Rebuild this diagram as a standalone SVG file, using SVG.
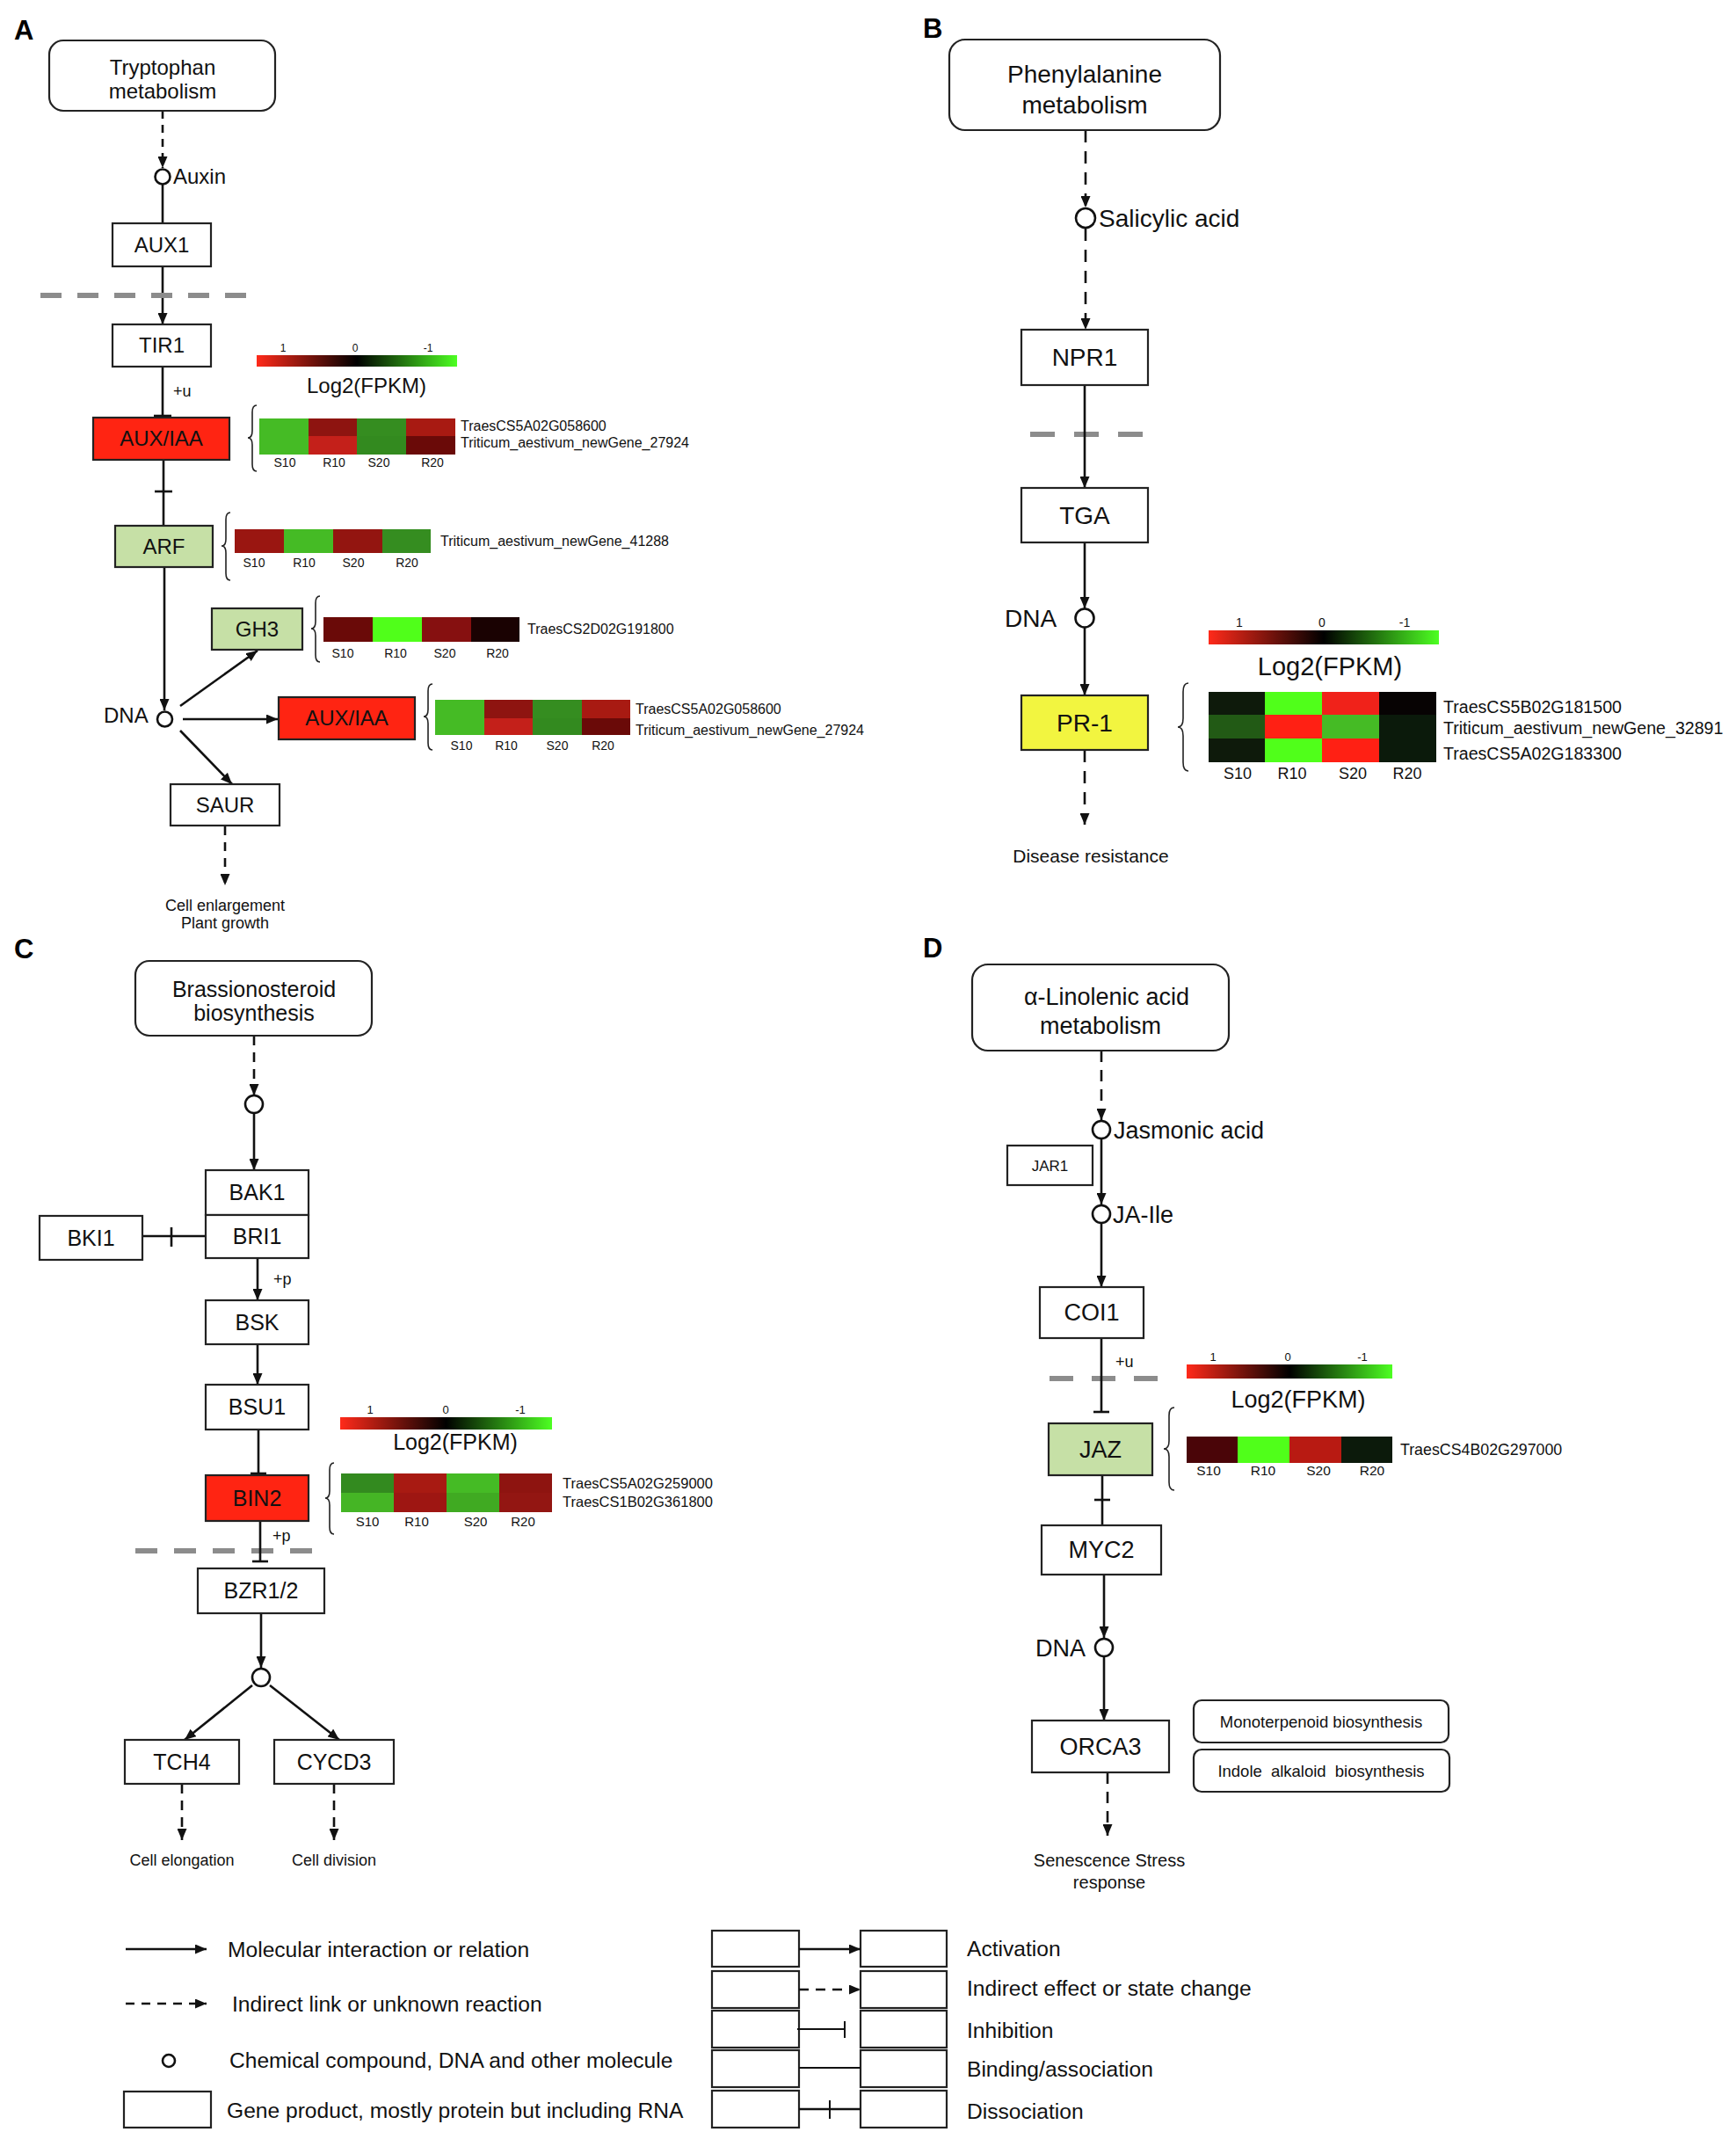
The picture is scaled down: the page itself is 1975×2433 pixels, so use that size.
<svg xmlns="http://www.w3.org/2000/svg" width="1975" height="2433" viewBox="0 0 1975 2433">
<defs>
<marker id="ar" markerUnits="userSpaceOnUse" markerWidth="13" markerHeight="11" refX="13" refY="5.5" orient="auto"><path d="M0,0 L13,5.5 L0,11 z" fill="#111"/></marker>
<linearGradient id="cb" x1="0" y1="0" x2="1" y2="0"><stop offset="0" stop-color="#ff2a1a"/><stop offset="0.5" stop-color="#000"/><stop offset="1" stop-color="#4dff22"/></linearGradient>
</defs>
<style>
.box{fill:#fff;stroke:#222;stroke-width:2.2}
.red{fill:#ff2412}
.grn{fill:#c6e0a6}
.yel{fill:#f2f540}
.t{font-family:"Liberation Sans",Arial,sans-serif;fill:#111}
.c{text-anchor:middle}
.ln{stroke:#111;stroke-width:2.6;fill:none}
.dl{stroke:#111;stroke-width:2.6;fill:none;stroke-dasharray:11 8}
.gd{stroke:#8c8c8c;stroke-width:6;fill:none}
.br{stroke:#222;stroke-width:1.6;fill:none}
.cir{fill:#fff;stroke:#111;stroke-width:2.6}
.lbl{font-family:"Liberation Sans",Arial,sans-serif;font-weight:bold;font-size:31px;fill:#000}
</style>
<rect width="1975" height="2433" fill="#fff"/>

<!-- Panel letters -->
<text class="lbl" x="16" y="45">A</text>
<text class="lbl" x="1050" y="43">B</text>
<text class="lbl" x="16" y="1090">C</text>
<text class="lbl" x="1050" y="1089">D</text>

<!-- ================= Connectors ================= -->
<g id="connectors">
<!-- A -->
<line class="dl" x1="185" y1="126" x2="185" y2="191" marker-end="url(#ar)" style="stroke-dasharray:9 7"/>
<line class="ln" x1="185" y1="210" x2="185" y2="254"/>
<line class="ln" x1="185" y1="303" x2="185" y2="369" marker-end="url(#ar)"/>
<line class="gd" x1="46" y1="336" x2="282" y2="336" style="stroke-dasharray:24 18"/>
<line class="ln" x1="185" y1="417" x2="185" y2="473"/>
<line class="ln" x1="175" y1="473" x2="195" y2="473"/>
<line class="ln" x1="186" y1="523" x2="186" y2="598"/>
<line class="ln" x1="176" y1="559" x2="196" y2="559"/>
<line class="ln" x1="187" y1="645" x2="187" y2="808" marker-end="url(#ar)"/>
<line class="ln" x1="205" y1="803" x2="293" y2="740" marker-end="url(#ar)"/>
<line class="ln" x1="208" y1="818" x2="316" y2="818" marker-end="url(#ar)"/>
<line class="ln" x1="205" y1="831" x2="264" y2="892" marker-end="url(#ar)"/>
<line class="dl" x1="256" y1="940" x2="256" y2="1007" marker-end="url(#ar)" style="stroke-dasharray:10 8"/>
<!-- B -->
<line class="dl" x1="1235" y1="148" x2="1235" y2="236" marker-end="url(#ar)" style="stroke-dasharray:14 10"/>
<line class="dl" x1="1235" y1="260" x2="1235" y2="375" marker-end="url(#ar)" style="stroke-dasharray:14 10"/>
<line class="gd" x1="1172" y1="494" x2="1302" y2="494" style="stroke-dasharray:28 22"/>
<line class="ln" x1="1234" y1="438" x2="1234" y2="555" marker-end="url(#ar)"/>
<line class="ln" x1="1234" y1="617" x2="1234" y2="692" marker-end="url(#ar)"/>
<line class="ln" x1="1234" y1="714" x2="1234" y2="791" marker-end="url(#ar)"/>
<line class="dl" x1="1234" y1="853" x2="1234" y2="938" marker-end="url(#ar)" style="stroke-dasharray:14 10"/>
<!-- C -->
<line class="dl" x1="289" y1="1178" x2="289" y2="1246" marker-end="url(#ar)"/>
<line class="ln" x1="289" y1="1266" x2="289" y2="1331" marker-end="url(#ar)"/>
<line class="ln" x1="162" y1="1406" x2="234" y2="1406"/>
<line class="ln" x1="195" y1="1396" x2="195" y2="1418"/>
<line class="ln" x1="293" y1="1431" x2="293" y2="1479" marker-end="url(#ar)"/>
<line class="ln" x1="293" y1="1529" x2="293" y2="1575" marker-end="url(#ar)"/>
<line class="ln" x1="294" y1="1626" x2="294" y2="1676"/>
<line class="ln" x1="285" y1="1676" x2="303" y2="1676"/>
<line class="gd" x1="154" y1="1764" x2="357" y2="1764" style="stroke-dasharray:25 19"/>
<line class="ln" x1="296" y1="1730" x2="296" y2="1776"/>
<line class="ln" x1="287" y1="1776" x2="305" y2="1776"/>
<line class="ln" x1="297" y1="1835" x2="297" y2="1897" marker-end="url(#ar)"/>
<line class="ln" x1="287" y1="1917" x2="210" y2="1979" marker-end="url(#ar)"/>
<line class="ln" x1="307" y1="1917" x2="386" y2="1979" marker-end="url(#ar)"/>
<line class="dl" x1="207" y1="2029" x2="207" y2="2093" marker-end="url(#ar)"/>
<line class="dl" x1="380" y1="2029" x2="380" y2="2093" marker-end="url(#ar)"/>
<!-- D -->
<line class="dl" x1="1253" y1="1195" x2="1253" y2="1274" marker-end="url(#ar)" style="stroke-dasharray:13 9"/>
<line class="ln" x1="1253" y1="1295" x2="1253" y2="1370" marker-end="url(#ar)"/>
<line class="ln" x1="1253" y1="1391" x2="1253" y2="1464" marker-end="url(#ar)"/>
<line class="gd" x1="1194" y1="1568" x2="1317" y2="1568" style="stroke-dasharray:27 21"/>
<line class="ln" x1="1253" y1="1522" x2="1253" y2="1606"/>
<line class="ln" x1="1244" y1="1606" x2="1262" y2="1606"/>
<line class="ln" x1="1254" y1="1678" x2="1254" y2="1735"/>
<line class="ln" x1="1245" y1="1706" x2="1263" y2="1706"/>
<line class="ln" x1="1256" y1="1791" x2="1256" y2="1863" marker-end="url(#ar)"/>
<line class="ln" x1="1256" y1="1884" x2="1256" y2="1957" marker-end="url(#ar)"/>
<line class="dl" x1="1260" y1="2016" x2="1260" y2="2088" marker-end="url(#ar)" style="stroke-dasharray:13 9"/>
</g>

<!-- ================= Panel A nodes ================= -->
<g id="A-tryptophan"><rect class="box" x="56" y="46" width="257" height="80" rx="16"/>
<text class="t c" x="185" y="85" font-size="24">Tryptophan</text><text class="t c" x="185" y="112" font-size="24">metabolism</text></g>
<g id="A-auxin"><circle class="cir" cx="185" cy="201" r="8.5"/><text class="t" x="197" y="209" font-size="24">Auxin</text></g>
<g id="A-AUX1"><rect class="box" x="128" y="254" width="112" height="49"/><text class="t c" x="184" y="287" font-size="24">AUX1</text></g>
<g id="A-TIR1"><rect class="box" x="128" y="369" width="112" height="48"/><text class="t c" x="184" y="401" font-size="24">TIR1</text></g>
<text class="t" x="197" y="451" font-size="18">+u</text>
<g id="A-AUXIAA1"><rect class="box red" x="106" y="475" width="155" height="48"/><text class="t c" x="183.5" y="507" font-size="24">AUX/IAA</text></g>
<g id="A-ARF"><rect class="box grn" x="131" y="598" width="111" height="47"/><text class="t c" x="186.5" y="630" font-size="24">ARF</text></g>
<g id="A-GH3"><rect class="box grn" x="241" y="692" width="103" height="47"/><text class="t c" x="292.5" y="724" font-size="24">GH3</text></g>
<g id="A-DNA"><circle class="cir" cx="187.5" cy="818" r="8.5"/><text class="t" x="118" y="822" font-size="24">DNA</text></g>
<g id="A-AUXIAA2"><rect class="box red" x="317" y="793" width="155" height="48"/><text class="t c" x="394.5" y="825" font-size="24">AUX/IAA</text></g>
<g id="A-SAUR"><rect class="box" x="194" y="892" width="124" height="47"/><text class="t c" x="256" y="924" font-size="24">SAUR</text></g>
<g id="A-out"><text class="t c" x="256" y="1036" font-size="18">Cell enlargement</text><text class="t c" x="256" y="1056" font-size="18">Plant growth</text></g>

<g id="A-colorbar"><rect x="292" y="404" width="228" height="13" fill="url(#cb)"/>
<text class="t c" x="322" y="400" font-size="12">1</text><text class="t c" x="404" y="400" font-size="12">0</text><text class="t c" x="487" y="400" font-size="12">-1</text>
<text class="t c" x="417" y="447" font-size="24">Log2(FPKM)</text></g>

<g id="A-heat1">
<path class="br" d="M292,461 Q287,461 287,469 L287,490 Q287,498 282,498 Q287,498 287,506 L287,528 Q287,536 292,536"/>
<rect x="295" y="476" width="56" height="20" fill="#45bb25"/><rect x="351" y="476" width="55" height="20" fill="#8e1410"/><rect x="406" y="476" width="56" height="20" fill="#358d20"/><rect x="462" y="476" width="56" height="20" fill="#a81a12"/>
<rect x="295" y="496" width="56" height="21" fill="#45bb25"/><rect x="351" y="496" width="55" height="21" fill="#c4201a"/><rect x="406" y="496" width="56" height="21" fill="#338a1f"/><rect x="462" y="496" width="56" height="21" fill="#6a0a08"/>
<text class="t c" x="324" y="531" font-size="14">S10</text><text class="t c" x="380" y="531" font-size="14">R10</text><text class="t c" x="431" y="531" font-size="14">S20</text><text class="t c" x="492" y="531" font-size="14">R20</text>
<text class="t" x="524" y="490" font-size="16">TraesCS5A02G058600</text><text class="t" x="524" y="509" font-size="16">Triticum_aestivum_newGene_27924</text></g>

<g id="A-heatARF">
<path class="br" d="M262,583 Q257,583 257,591 L257,613 Q257,621 252,621 Q257,621 257,629 L257,652 Q257,660 262,660"/>
<rect x="267" y="602" width="56" height="27" fill="#9a1611"/><rect x="323" y="602" width="56" height="27" fill="#45bb25"/><rect x="379" y="602" width="56" height="27" fill="#931510"/><rect x="435" y="602" width="55" height="27" fill="#358d20"/>
<text class="t c" x="289" y="645" font-size="14">S10</text><text class="t c" x="346" y="645" font-size="14">R10</text><text class="t c" x="402" y="645" font-size="14">S20</text><text class="t c" x="463" y="645" font-size="14">R20</text>
<text class="t" x="501" y="621" font-size="16">Triticum_aestivum_newGene_41288</text></g>

<g id="A-heatGH3">
<path class="br" d="M364,678 Q359,678 359,686 L359,707 Q359,715 354,715 Q359,715 359,723 L359,745 Q359,753 364,753"/>
<rect x="368" y="702" width="56" height="28" fill="#6a0a08"/><rect x="424" y="702" width="56" height="28" fill="#50ff1a"/><rect x="480" y="702" width="56" height="28" fill="#861010"/><rect x="536" y="702" width="55" height="28" fill="#1a0202"/>
<text class="t c" x="390" y="748" font-size="14">S10</text><text class="t c" x="450" y="748" font-size="14">R10</text><text class="t c" x="506" y="748" font-size="14">S20</text><text class="t c" x="566" y="748" font-size="14">R20</text>
<text class="t" x="600" y="721" font-size="16">TraesCS2D02G191800</text></g>

<g id="A-heat2">
<path class="br" d="M492,778 Q487,778 487,786 L487,807 Q487,815 482,815 Q487,815 487,823 L487,845 Q487,853 492,853"/>
<rect x="495" y="796" width="56" height="21" fill="#45bb25"/><rect x="551" y="796" width="55" height="21" fill="#8e1410"/><rect x="606" y="796" width="56" height="21" fill="#358d20"/><rect x="662" y="796" width="55" height="21" fill="#a81a12"/>
<rect x="495" y="817" width="56" height="19" fill="#45bb25"/><rect x="551" y="817" width="55" height="19" fill="#c4201a"/><rect x="606" y="817" width="56" height="19" fill="#338a1f"/><rect x="662" y="817" width="55" height="19" fill="#6a0a08"/>
<text class="t c" x="525" y="853" font-size="14">S10</text><text class="t c" x="576" y="853" font-size="14">R10</text><text class="t c" x="634" y="853" font-size="14">S20</text><text class="t c" x="686" y="853" font-size="14">R20</text>
<text class="t" x="723" y="812" font-size="16">TraesCS5A02G058600</text><text class="t" x="723" y="836" font-size="16">Triticum_aestivum_newGene_27924</text></g>

<!-- ================= Panel B nodes ================= -->
<g id="B-phenylalanine"><rect class="box" x="1080" y="45" width="308" height="103" rx="18"/>
<text class="t c" x="1234" y="94" font-size="28">Phenylalanine</text><text class="t c" x="1234" y="129" font-size="28">metabolism</text></g>
<g id="B-salicylic"><circle class="cir" cx="1235" cy="248" r="11"/><text class="t" x="1250" y="258" font-size="28">Salicylic acid</text></g>
<g id="B-NPR1"><rect class="box" x="1162" y="375" width="144" height="63"/><text class="t c" x="1234" y="416" font-size="28">NPR1</text></g>
<g id="B-TGA"><rect class="box" x="1162" y="555" width="144" height="62"/><text class="t c" x="1234" y="596" font-size="28">TGA</text></g>
<g id="B-DNA"><circle class="cir" cx="1234" cy="703" r="10.5"/><text class="t" x="1143" y="713" font-size="28">DNA</text></g>
<g id="B-PR1"><rect class="box yel" x="1162" y="791" width="144" height="62"/><text class="t c" x="1234" y="832" font-size="28">PR-1</text></g>
<text class="t c" x="1241" y="981" font-size="21">Disease resistance</text>
<g id="B-colorbar"><rect x="1375" y="717" width="262" height="16" fill="url(#cb)"/>
<text class="t c" x="1410" y="713" font-size="14">1</text><text class="t c" x="1504" y="713" font-size="14">0</text><text class="t c" x="1598" y="713" font-size="14">-1</text>
<text class="t c" x="1513" y="768" font-size="29">Log2(FPKM)</text></g>
<g id="B-heat">
<path class="br" d="M1352,777 Q1346,777 1346,787 L1346,817 Q1346,827 1340,827 Q1346,827 1346,837 L1346,867 Q1346,877 1352,877"/>
<rect x="1375" y="787" width="64" height="26" fill="#0e1a0b"/><rect x="1439" y="787" width="65" height="26" fill="#50ff1a"/><rect x="1504" y="787" width="65" height="26" fill="#f0221a"/><rect x="1569" y="787" width="65" height="26" fill="#070303"/>
<rect x="1375" y="813" width="64" height="27" fill="#225a15"/><rect x="1439" y="813" width="65" height="27" fill="#ff2014"/><rect x="1504" y="813" width="65" height="27" fill="#45bb25"/><rect x="1569" y="813" width="65" height="27" fill="#0b1a0b"/>
<rect x="1375" y="840" width="64" height="27" fill="#0e1a0b"/><rect x="1439" y="840" width="65" height="27" fill="#50ff1a"/><rect x="1504" y="840" width="65" height="27" fill="#ff2014"/><rect x="1569" y="840" width="65" height="27" fill="#0b1a0b"/>
<text class="t c" x="1408" y="886" font-size="18">S10</text><text class="t c" x="1470" y="886" font-size="18">R10</text><text class="t c" x="1539" y="886" font-size="18">S20</text><text class="t c" x="1601" y="886" font-size="18">R20</text>
<text class="t" x="1642" y="811" font-size="19.6">TraesCS5B02G181500</text><text class="t" x="1642" y="835" font-size="19.6">Triticum_aestivum_newGene_32891</text><text class="t" x="1642" y="864" font-size="19.6">TraesCS5A02G183300</text></g>

<!-- ================= Panel C nodes ================= -->
<g id="C-brass"><rect class="box" x="154" y="1093" width="269" height="85" rx="16"/>
<text class="t c" x="289" y="1134" font-size="25">Brassionosteroid</text><text class="t c" x="289" y="1161" font-size="25">biosynthesis</text></g>
<g id="C-cpd"><circle class="cir" cx="289" cy="1256" r="10"/></g>
<g id="C-BAK1"><rect class="box" x="234" y="1331" width="117" height="51"/><text class="t c" x="292.5" y="1365" font-size="25">BAK1</text></g>
<g id="C-BRI1"><rect class="box" x="234" y="1382" width="117" height="49"/><text class="t c" x="292.5" y="1415" font-size="25">BRI1</text></g>
<g id="C-BKI1"><rect class="box" x="45" y="1383" width="117" height="50"/><text class="t c" x="103.5" y="1417" font-size="25">BKI1</text></g>
<text class="t" x="311" y="1461" font-size="18">+p</text>
<g id="C-BSK"><rect class="box" x="234" y="1479" width="117" height="50"/><text class="t c" x="292.5" y="1513" font-size="25">BSK</text></g>
<g id="C-BSU1"><rect class="box" x="234" y="1575" width="117" height="51"/><text class="t c" x="292.5" y="1609" font-size="25">BSU1</text></g>
<g id="C-BIN2"><rect class="box red" x="234" y="1678" width="117" height="52"/><text class="t c" x="292.5" y="1713" font-size="25">BIN2</text></g>
<text class="t" x="310" y="1753" font-size="18">+p</text>
<g id="C-BZR"><rect class="box" x="225" y="1784" width="144" height="51"/><text class="t c" x="297" y="1818" font-size="25">BZR1/2</text></g>
<g id="C-cpd2"><circle class="cir" cx="297" cy="1908" r="10"/></g>
<g id="C-TCH4"><rect class="box" x="142" y="1979" width="130" height="50"/><text class="t c" x="207" y="2013" font-size="25">TCH4</text></g>
<g id="C-CYCD3"><rect class="box" x="312" y="1979" width="136" height="50"/><text class="t c" x="380" y="2013" font-size="25">CYCD3</text></g>
<text class="t c" x="207" y="2122" font-size="18">Cell elongation</text>
<text class="t c" x="380" y="2122" font-size="18">Cell division</text>
<g id="C-colorbar"><rect x="387" y="1612" width="241" height="14" fill="url(#cb)"/>
<text class="t c" x="421" y="1608" font-size="13">1</text><text class="t c" x="507" y="1608" font-size="13">0</text><text class="t c" x="592" y="1608" font-size="13">-1</text>
<text class="t c" x="518" y="1649" font-size="25">Log2(FPKM)</text></g>
<g id="C-heat">
<path class="br" d="M380,1664 Q375,1664 375,1672 L375,1696 Q375,1704 370,1704 Q375,1704 375,1712 L375,1737 Q375,1745 380,1745"/>
<rect x="388" y="1676" width="60" height="22" fill="#338a1f"/><rect x="448" y="1676" width="60" height="22" fill="#a81a12"/><rect x="508" y="1676" width="60" height="22" fill="#45bb25"/><rect x="568" y="1676" width="60" height="22" fill="#8e1410"/>
<rect x="388" y="1698" width="60" height="22" fill="#45b525"/><rect x="448" y="1698" width="60" height="22" fill="#9e1612"/><rect x="508" y="1698" width="60" height="22" fill="#40aa22"/><rect x="568" y="1698" width="60" height="22" fill="#931612"/>
<text class="t c" x="418" y="1736" font-size="15">S10</text><text class="t c" x="474" y="1736" font-size="15">R10</text><text class="t c" x="541" y="1736" font-size="15">S20</text><text class="t c" x="595" y="1736" font-size="15">R20</text>
<text class="t" x="640" y="1693" font-size="16.5">TraesCS5A02G259000</text><text class="t" x="640" y="1714" font-size="16.5">TraesCS1B02G361800</text></g>

<!-- ================= Panel D nodes ================= -->
<g id="D-linolenic"><rect class="box" x="1106" y="1097" width="292" height="98" rx="18"/>
<text class="t c" x="1259" y="1143" font-size="27">α-Linolenic acid</text><text class="t c" x="1252" y="1176" font-size="27">metabolism</text></g>
<g id="D-JA"><circle class="cir" cx="1253" cy="1285" r="10"/><text class="t" x="1267" y="1295" font-size="27">Jasmonic acid</text></g>
<g id="D-JAR1"><rect class="box" x="1146" y="1303" width="97" height="45"/><text class="t c" x="1194.5" y="1332" font-size="17">JAR1</text></g>
<g id="D-JAIle"><circle class="cir" cx="1253" cy="1381" r="10"/><text class="t" x="1266" y="1391" font-size="27">JA-Ile</text></g>
<g id="D-COI1"><rect class="box" x="1183" y="1464" width="118" height="58"/><text class="t c" x="1242" y="1502" font-size="27">COI1</text></g>
<text class="t" x="1269" y="1555" font-size="18">+u</text>
<g id="D-JAZ"><rect class="box grn" x="1193" y="1619" width="118" height="59"/><text class="t c" x="1252" y="1658" font-size="27">JAZ</text></g>
<g id="D-MYC2"><rect class="box" x="1185" y="1735" width="136" height="56"/><text class="t c" x="1253" y="1772" font-size="27">MYC2</text></g>
<g id="D-DNA"><circle class="cir" cx="1256" cy="1874" r="10"/><text class="t" x="1178" y="1884" font-size="27">DNA</text></g>
<g id="D-ORCA3"><rect class="box" x="1174" y="1957" width="156" height="59"/><text class="t c" x="1252" y="1996" font-size="27">ORCA3</text></g>
<g id="D-out"><text class="t c" x="1262" y="2123" font-size="20">Senescence Stress</text><text class="t c" x="1262" y="2148" font-size="20">response</text></g>
<g id="D-mono"><rect class="box" x="1358" y="1934" width="290" height="48" rx="9"/><text class="t c" x="1503" y="1965" font-size="18.5">Monoterpenoid biosynthesis</text></g>
<g id="D-indole"><rect class="box" x="1358" y="1990" width="291" height="48" rx="9"/><text class="t c" x="1503" y="2021" font-size="18.5" word-spacing="5">Indole alkaloid biosynthesis</text></g>
<g id="D-colorbar"><rect x="1350" y="1552" width="234" height="16" fill="url(#cb)"/>
<text class="t c" x="1380" y="1548" font-size="13">1</text><text class="t c" x="1465" y="1548" font-size="13">0</text><text class="t c" x="1550" y="1548" font-size="13">-1</text>
<text class="t c" x="1477" y="1601" font-size="27">Log2(FPKM)</text></g>
<g id="D-heat">
<path class="br" d="M1336,1601 Q1330,1601 1330,1610 L1330,1639 Q1330,1648 1324,1648 Q1330,1648 1330,1657 L1330,1686 Q1330,1695 1336,1695"/>
<rect x="1350" y="1634" width="58" height="30" fill="#4a0508"/><rect x="1408" y="1634" width="59" height="30" fill="#50ff1a"/><rect x="1467" y="1634" width="59" height="30" fill="#b81a12"/><rect x="1526" y="1634" width="58" height="30" fill="#0c1a0b"/>
<text class="t c" x="1375" y="1678" font-size="15.5">S10</text><text class="t c" x="1437" y="1678" font-size="15.5">R10</text><text class="t c" x="1500" y="1678" font-size="15.5">S20</text><text class="t c" x="1561" y="1678" font-size="15.5">R20</text>
<text class="t" x="1593" y="1655" font-size="17.8">TraesCS4B02G297000</text></g>

<!-- ================= Legend ================= -->
<g id="legend">
<line class="ln" x1="143" y1="2217" x2="235" y2="2217" marker-end="url(#ar)"/>
<text class="t" x="259" y="2226" font-size="24.6">Molecular interaction or relation</text>
<line class="dl" x1="143" y1="2279" x2="235" y2="2279" marker-end="url(#ar)" style="stroke-dasharray:10 8"/>
<text class="t" x="264" y="2288" font-size="24.6">Indirect link or unknown reaction</text>
<circle class="cir" cx="192" cy="2344" r="7"/>
<text class="t" x="261" y="2352" font-size="24.6">Chemical compound, DNA and other molecule</text>
<rect class="box" x="141" y="2379" width="99" height="41"/>
<text class="t" x="258" y="2409" font-size="24.6">Gene product, mostly protein but including RNA</text>

<rect class="box" x="810" y="2196" width="99" height="41"/><rect class="box" x="979" y="2196" width="98" height="41"/>
<line class="ln" x1="909" y1="2217" x2="979" y2="2217" marker-end="url(#ar)"/>
<text class="t" x="1100" y="2225" font-size="24.6">Activation</text>
<rect class="box" x="810" y="2242" width="99" height="42"/><rect class="box" x="979" y="2242" width="98" height="42"/>
<line class="dl" x1="909" y1="2263" x2="979" y2="2263" marker-end="url(#ar)" style="stroke-dasharray:11 8"/>
<text class="t" x="1100" y="2270" font-size="24.6">Indirect effect or state change</text>
<rect class="box" x="810" y="2287" width="99" height="42"/><rect class="box" x="979" y="2287" width="98" height="42"/>
<line class="ln" x1="907" y1="2308" x2="961" y2="2308" style="stroke-width:1.8"/>
<line class="ln" x1="961" y1="2299" x2="961" y2="2318" style="stroke-width:2"/>
<text class="t" x="1100" y="2318" font-size="24.6">Inhibition</text>
<rect class="box" x="810" y="2332" width="99" height="42"/><rect class="box" x="979" y="2332" width="98" height="42"/>
<line class="ln" x1="909" y1="2352" x2="979" y2="2352" style="stroke-width:1.8"/>
<text class="t" x="1100" y="2362" font-size="24.6">Binding/association</text>
<rect class="box" x="810" y="2378" width="99" height="42"/><rect class="box" x="979" y="2378" width="98" height="42"/>
<line class="ln" x1="909" y1="2399" x2="979" y2="2399"/>
<line class="ln" x1="944" y1="2389" x2="944" y2="2410" style="stroke-width:2"/>
<text class="t" x="1100" y="2410" font-size="24.6">Dissociation</text>
</g>
</svg>
